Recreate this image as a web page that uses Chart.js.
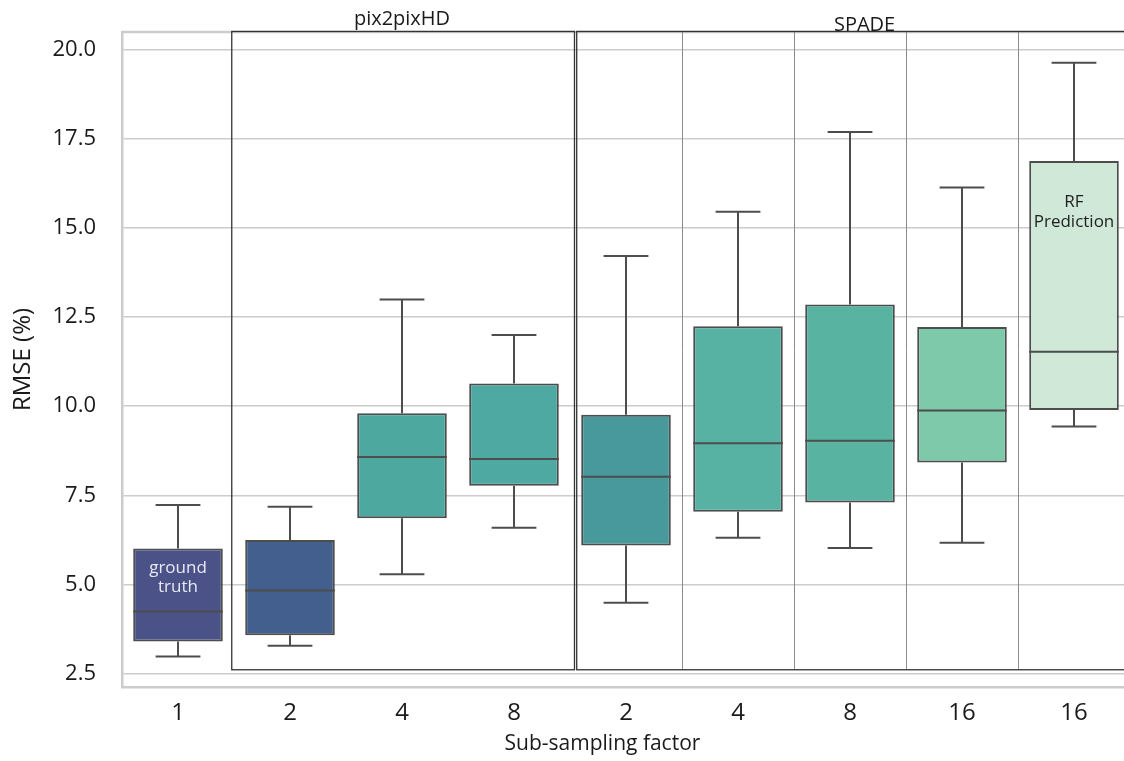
<!DOCTYPE html>
<html>
<head>
<meta charset="utf-8">
<script src="https://cdn.jsdelivr.net/npm/chart.js@4.4.1/dist/chart.umd.min.js"></script>
<style>
html,body{margin:0;padding:0;background:#fff;overflow:hidden;}
#wrap{width:1140px;height:761px;}
</style>
</head>
<body>
<div id="wrap"><canvas id="chart" width="1140" height="761"></canvas></div>
<script>
// box plot values (RMSE %)
var categories = ['1','2','4','8','2','4','8','16','16'];
var whisLow  = [2.98, 3.28, 5.29, 6.59, 4.49, 6.31, 6.02, 6.17, 9.43];
var q1       = [3.40, 3.58, 6.86, 7.77, 6.09, 7.04, 7.30, 8.42, 9.89];
var median   = [4.24, 4.83, 8.57, 8.52, 8.02, 8.96, 9.03, 9.88, 11.52];
var q3       = [6.01, 6.25, 9.80, 10.63, 9.76, 12.24, 12.85, 12.22, 16.87];
var whisHigh = [7.23, 7.18, 12.99, 11.99, 14.21, 15.45, 17.68, 16.13, 19.62];
var yTicks   = [2.5, 5.0, 7.5, 10.0, 12.5, 15.0, 17.5, 20.0];
var boxColors = ['#4a5288','#425f8e','#4da8a0','#4fa9a3','#47999c','#58b2a3','#59b3a1','#7ec9aa','#cfe8d7'];

var FONT = "'Open Sans', sans-serif";
var LINE = '#4d4d4d';

var boxData = q1.map(function(v,i){ return [v, q3[i]]; });

var boxPlugin = {
	id: 'boxExtras',
	beforeDatasetsDraw: function(chart){
		var ctx = chart.ctx, a = chart.chartArea, x = chart.scales.x, y = chart.scales.y;
		ctx.save();
		// top spine
		ctx.strokeStyle = '#cccccc'; ctx.lineWidth = 2.5;
		ctx.beginPath(); ctx.moveTo(a.left, a.top); ctx.lineTo(a.right, a.top); ctx.stroke();
		// SPADE separators
		ctx.strokeStyle = '#8c8c8c'; ctx.lineWidth = 1;
		[4.5, 5.5, 6.5, 7.5].forEach(function(v){
			var px = Math.round(x.getPixelForValue(v)) + 0.5;
			ctx.beginPath(); ctx.moveTo(px, y.getPixelForValue(20.5)); ctx.lineTo(px, y.getPixelForValue(2.61)); ctx.stroke();
		});
		// group frames
		ctx.strokeStyle = '#333333'; ctx.lineWidth = 1.3;
		[[0.48, 3.54], [3.56, 8.7]].forEach(function(g){
			var l = x.getPixelForValue(g[0]), r = x.getPixelForValue(g[1]);
			var t = y.getPixelForValue(20.5), b = y.getPixelForValue(2.61);
			ctx.strokeRect(l, t, r - l, b - t);
		});
		ctx.restore();
	},
	afterDatasetsDraw: function(chart){
		var ctx = chart.ctx, y = chart.scales.y, x = chart.scales.x;
		var meta = chart.getDatasetMeta(0);
		ctx.save();
		ctx.strokeStyle = LINE; ctx.lineWidth = 2;
		meta.data.forEach(function(bar, i){
			var cx = bar.x, hw = bar.width / 2, cap = bar.width / 4;
			var yLo = y.getPixelForValue(whisLow[i]), yQ1 = y.getPixelForValue(q1[i]);
			var yMed = y.getPixelForValue(median[i]), yQ3 = y.getPixelForValue(q3[i]);
			var yHi = y.getPixelForValue(whisHigh[i]);
			ctx.beginPath();
			ctx.moveTo(cx, yQ1); ctx.lineTo(cx, yLo);
			ctx.moveTo(cx - cap, yLo); ctx.lineTo(cx + cap, yLo);
			ctx.moveTo(cx, yQ3); ctx.lineTo(cx, yHi);
			ctx.moveTo(cx - cap, yHi); ctx.lineTo(cx + cap, yHi);
			ctx.moveTo(cx - hw, yMed); ctx.lineTo(cx + hw, yMed);
			ctx.stroke();
		});
		// texts
		ctx.textAlign = 'center';
		ctx.textBaseline = 'alphabetic';
		ctx.fillStyle = '#1a1a1a';
		ctx.font = '20px ' + FONT;
		ctx.fillText('pix2pixHD', x.getPixelForValue(2.0), y.getPixelForValue(20.68));
		ctx.fillText('SPADE', x.getPixelForValue(6.13), y.getPixelForValue(20.51));
		ctx.font = '21px ' + FONT;
		ctx.fillText('Sub-sampling factor', x.getPixelForValue(3.79), 750);
		ctx.textBaseline = 'middle';
		ctx.font = '17px ' + FONT;
		ctx.fillStyle = '#e8e9f2';
		ctx.fillText('ground', x.getPixelForValue(0), y.getPixelForValue(5.46));
		ctx.fillText('truth', x.getPixelForValue(0), y.getPixelForValue(4.93));
		ctx.fillStyle = '#1f1f1f';
		ctx.fillText('RF', x.getPixelForValue(8), y.getPixelForValue(15.72));
		ctx.fillText('Prediction', x.getPixelForValue(8), y.getPixelForValue(15.16));
		ctx.restore();
	}
};

var ctx = document.getElementById('chart').getContext('2d');
var myChart = new Chart(ctx, {
	type: 'bar',
	data: {
		labels: categories,
		datasets: [{
			data: boxData,
			backgroundColor: boxColors,
			borderColor: LINE,
			borderWidth: 2,
			borderSkipped: false,
			categoryPercentage: 0.8,
			barPercentage: 1.0
		}]
	},
	options: {
		responsive: false,
		animation: false,
		layout: {padding: {top: 32, right: 10, left: 0, bottom: 0}},
		plugins: {legend: {display: false}, tooltip: {enabled: false}},
		scales: {
			x: {
				grid: {display: false},
				border: {display: true, color: '#cccccc', width: 2.5},
				ticks: {color: '#1a1a1a', font: {family: FONT, size: 24}, padding: 4, maxRotation: 0},
				afterFit: function(s){ s.height = 74; }
			},
			y: {
				min: 2.127,
				max: 20.485,
				afterBuildTicks: function(s){ s.ticks = yTicks.map(function(v){ return {value: v}; }); },
				grid: {color: '#cccccc', lineWidth: 1.5, drawTicks: true, tickLength: 26, tickColor: 'rgba(0,0,0,0)'},
				border: {display: true, color: '#cccccc', width: 2.5},
				ticks: {color: '#1a1a1a', font: {family: FONT, size: 22}, padding: 0,
					callback: function(v){ return Number(v).toFixed(1); }},
				title: {display: true, text: 'RMSE (%)', color: '#1a1a1a', font: {family: FONT, size: 24}, padding: {top: 9, bottom: 0}},
				afterFit: function(s){ s.width = 122; }
			}
		}
	},
	plugins: [boxPlugin]
});
</script>
</body>
</html>
